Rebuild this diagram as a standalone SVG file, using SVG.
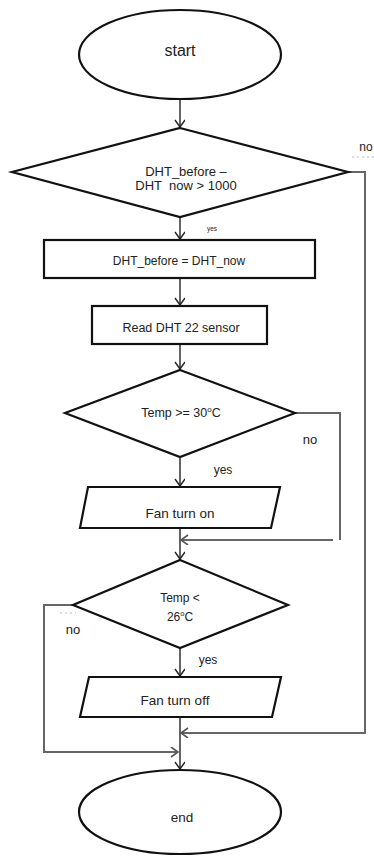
<svg xmlns="http://www.w3.org/2000/svg" width="374" height="856" viewBox="0 0 374 856">
<defs>
<style>
.shape{fill:#fff;stroke:#111;stroke-width:2.2}
.flow{fill:none;stroke:#222;stroke-width:1.4}
.loop{fill:none;stroke:#666;stroke-width:2}
text{font-family:"Liberation Sans",Arial,sans-serif;fill:#222;text-anchor:middle}
.faint{stroke:#bbb;stroke-width:1;stroke-dasharray:2 3;fill:none}
</style>
<marker id="arr" markerUnits="userSpaceOnUse" markerWidth="12" markerHeight="12" refX="8" refY="5" orient="auto">
<path d="M1,0 L8,5 L1,10" fill="none" stroke="#222" stroke-width="1.4"/>
</marker>
<marker id="arrg" markerUnits="userSpaceOnUse" markerWidth="12" markerHeight="12" refX="8" refY="5" orient="auto">
<path d="M1,0 L8,5 L1,10" fill="none" stroke="#555" stroke-width="1.6"/>
</marker>
</defs>
<rect width="374" height="856" fill="#fff"/>

<g id="connectors">
<line class="flow" x1="180" y1="99" x2="180" y2="127" marker-end="url(#arr)"/>
<line class="flow" x1="180" y1="217" x2="180" y2="239" marker-end="url(#arr)"/>
<line class="flow" x1="180" y1="278" x2="180" y2="305" marker-end="url(#arr)"/>
<line class="flow" x1="180" y1="344" x2="180" y2="369" marker-end="url(#arr)"/>
<line class="flow" x1="180" y1="457" x2="180" y2="486" marker-end="url(#arr)"/>
<line class="flow" x1="180" y1="528" x2="180" y2="559" marker-end="url(#arr)"/>
<line class="flow" x1="180" y1="648" x2="180" y2="676" marker-end="url(#arr)"/>
<line class="flow" x1="180" y1="717" x2="180" y2="769" marker-end="url(#arr)"/>
<polyline class="loop" points="295,413 340,413 340,540"/>
<line class="loop" x1="333" y1="540" x2="181" y2="540" marker-end="url(#arrg)"/>
<polyline class="loop" points="73,605 44,605 44,752 178,752" marker-end="url(#arrg)"/>
<polyline class="loop" points="348,172 365,172 365,733 181,733" marker-end="url(#arrg)"/>
<line class="faint" x1="352" y1="157" x2="374" y2="157"/>
<line class="faint" x1="60" y1="613" x2="76" y2="613"/>
</g>

<g id="start">
<ellipse class="shape" cx="180" cy="54.5" rx="101" ry="44.5"/>
<text x="180" y="55.5" font-size="16">start</text>
</g>

<g id="decision1">
<polygon class="shape" points="180,128 348,172 180,217 12,172"/>
<text x="186" y="176" font-size="13">DHT_before –</text>
<text x="186" y="190" font-size="13" xml:space="preserve">DHT  now &gt; 1000</text>
<text x="366" y="151" font-size="12">no</text>
<text x="212" y="231" font-size="6.5" fill="#777">yes</text>
</g>

<g id="assign">
<rect class="shape" x="44" y="240" width="271" height="38"/>
<text x="179" y="265" font-size="12">DHT_before = DHT_now</text>
</g>

<g id="read">
<rect class="shape" x="92" y="306" width="175" height="38"/>
<text x="181" y="331.5" font-size="12.5">Read DHT 22 sensor</text>
</g>

<g id="decision2">
<polygon class="shape" points="180,370 295,413 180,457 65,413"/>
<text x="181" y="416.5" font-size="12.5">Temp &gt;= 30<tspan font-size="8" dy="-5">o</tspan><tspan dy="5">C</tspan></text>
<text x="310" y="443.5" font-size="13">no</text>
<text x="223" y="474" font-size="12">yes</text>
</g>

<g id="fanon">
<polygon class="shape" points="88,487 280,487 271,528 80,528"/>
<text x="180" y="518" font-size="13.5">Fan turn on</text>
</g>

<g id="decision3">
<polygon class="shape" points="180,560 288,605 180,648 73,605"/>
<text x="180" y="602" font-size="12">Temp &lt;</text>
<text x="180" y="621" font-size="12">26<tspan font-size="7.5" dy="-5">o</tspan><tspan dy="5">C</tspan></text>
<text x="73" y="634" font-size="13">no</text>
<text x="208" y="664" font-size="12">yes</text>
</g>

<g id="fanoff">
<polygon class="shape" points="89,677 281,677 272,717 80,717"/>
<text x="175" y="705" font-size="13.5">Fan turn off</text>
</g>

<g id="end">
<ellipse class="shape" cx="180" cy="812" rx="101" ry="42"/>
<text x="182" y="822" font-size="13.5">end</text>
</g>
</svg>
